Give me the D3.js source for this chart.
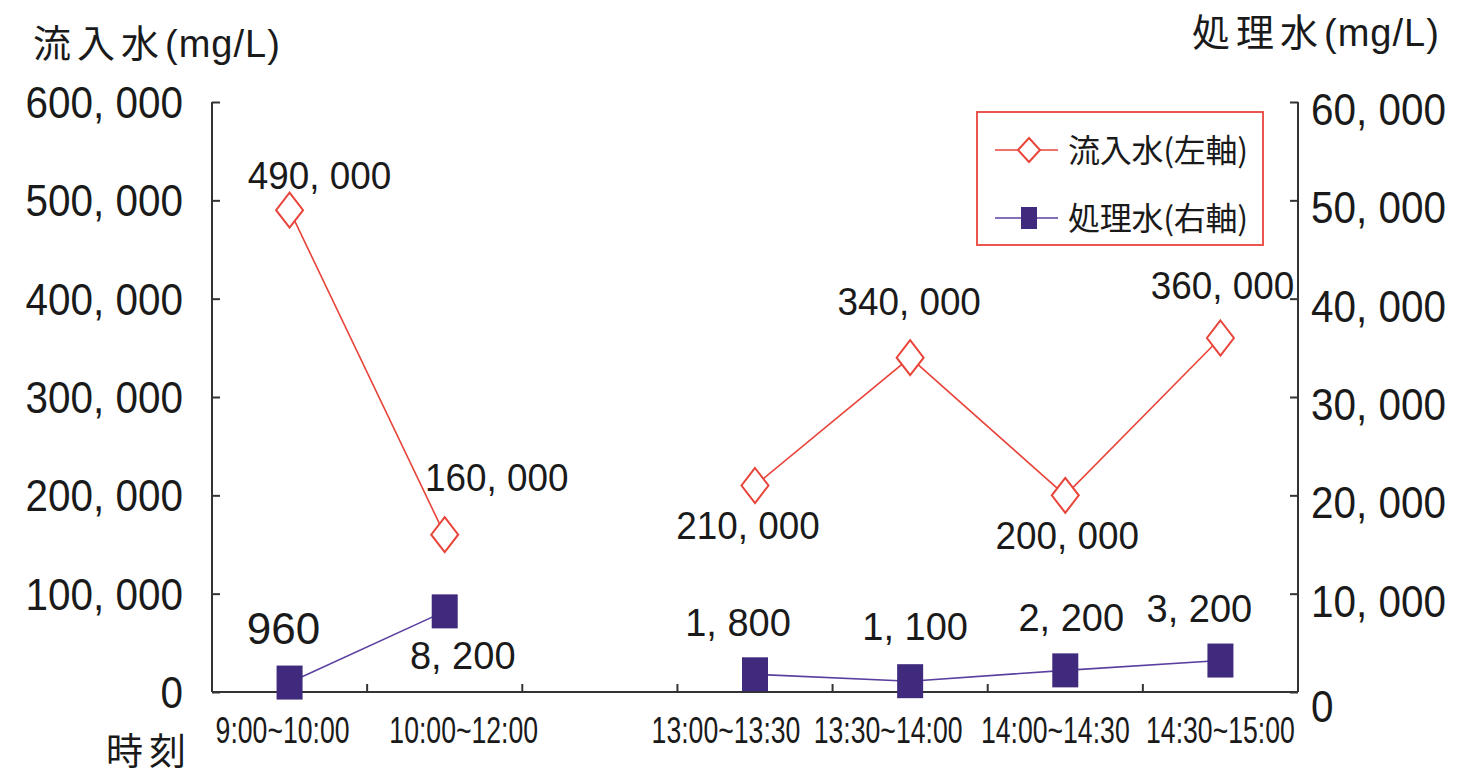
<!DOCTYPE html>
<html>
<head>
<meta charset="utf-8">
<script src="https://cdn.jsdelivr.net/npm/d3@7"></script>
<style>
  body { margin: 0; background: #fff; }
  text { font-family: "Liberation Sans", Arial, sans-serif; fill: #1a1a1a; }
  .jp { font-family: "Noto Sans CJK JP", sans-serif; }
</style>
</head>
<body>
<svg id="chart" width="1470" height="775"></svg>
<script>
// data
var periods = ["9:00~10:00", "10:00~12:00", "", "13:00~13:30", "13:30~14:00", "14:00~14:30", "14:30~15:00"];
var inflow = [490000, 160000, null, 210000, 340000, 200000, 360000];     // 流入水 (left axis)
var treated = [960, 8200, null, 1800, 1100, 2200, 3200];                // 処理水 (right axis)
var leftTicks = [0, 100000, 200000, 300000, 400000, 500000, 600000];
var rightTicks = [0, 10000, 20000, 30000, 40000, 50000, 60000];

var svg = d3.select("#chart");

var x0 = 212, x1 = 1298, yBottom = 692, yTop = 102;

var x = d3.scaleBand().domain(d3.range(periods.length)).range([x0, x1]);
var yL = d3.scaleLinear().domain([0, 600000]).range([yBottom, yTop]);
var yR = d3.scaleLinear().domain([0, 60000]).range([yBottom, yTop]);
var cx = function(i) { return x(i) + x.bandwidth() / 2; };

var fmt = function(v) { return d3.format(",")(v).replace(/,/g, ", "); };

// narrow font in the source -> scale text horizontally around its anchor
function narrow(sel, k, fx, fy) {
  sel.attr("x", 0).attr("y", 0)
    .attr("transform", function(d, i) { return "translate(" + fx(d, i) + "," + fy(d, i) + ") scale(" + k + ",1)"; });
}

var axisColor = "#333";

// left axis
var gL = svg.append("g").attr("transform", "translate(" + x0 + ",0)")
  .call(d3.axisRight(yL).tickValues(leftTicks).tickSize(8).tickFormat(""));
// right axis
var gR = svg.append("g").attr("transform", "translate(" + x1 + ",0)")
  .call(d3.axisLeft(yR).tickValues(rightTicks).tickSize(8).tickFormat(""));
[gL, gR].forEach(function(g) { g.select(".domain").attr("d", "M0," + yTop + "V" + yBottom); });
// bottom axis, ticks on band edges
var gB = svg.append("g").attr("transform", "translate(0," + yBottom + ")");
gB.append("line").attr("x1", x0).attr("x2", x1).attr("y1", 0).attr("y2", 0);
gB.selectAll(".tk").data(d3.range(1, periods.length)).enter().append("line")
  .attr("x1", function(i) { return x(i); }).attr("x2", function(i) { return x(i); })
  .attr("y1", 0).attr("y2", -8);
svg.selectAll("line, .domain").attr("stroke", axisColor).attr("stroke-width", 2);

// tick labels left
var lt = svg.append("g").selectAll("text").data(leftTicks).enter().append("text")
  .attr("dy", "0.36em").attr("text-anchor", "end").style("font-size", "44px")
  .text(function(d) { return fmt(d); });
narrow(lt, 0.92, function() { return 183; }, function(d) { return yL(d); });

// tick labels right
var rt = svg.append("g").selectAll("text").data(rightTicks).enter().append("text")
  .attr("dy", "0.36em").style("font-size", "44px")
  .text(function(d) { return fmt(d); });
narrow(rt, 0.92, function() { return 1311; }, function(d) { return yR(d) + (d === 0 ? 14 : 7); });

// category labels
var labelDx = [-7, 19, 0, -29, -22, -10, 0];
var xl = svg.append("g").selectAll("text").data(periods).enter().append("text")
  .attr("text-anchor", "middle").style("font-size", "37px")
  .text(function(d) { return d; });
narrow(xl, 0.72, function(d, i) { return cx(i) + labelDx[i]; }, function() { return 743; });

// axis titles
function title(tx, ty, jp) {
  var t = svg.append("text").attr("x", tx).attr("y", ty).style("font-size", "38px");
  t.append("tspan").attr("class", "jp").style("letter-spacing", "6px").text(jp);
  t.append("tspan").style("letter-spacing", "1px").text("(mg/L)");
}
title(33, 57, "流入水");
title(1192, 46, "処理水");
svg.append("text").attr("class", "jp").attr("x", 106).attr("y", 765)
  .style("letter-spacing", "6px").style("font-size", "37px").text("時刻");

var red = "#e8443a", purpleLine = "#5b3fa0", purple = "#3f2a7e";

// lines
var lineL = d3.line().defined(function(d) { return d != null; })
  .x(function(d, i) { return cx(i); }).y(function(d) { return yL(d); });
var lineR = d3.line().defined(function(d) { return d != null; })
  .x(function(d, i) { return cx(i); }).y(function(d) { return yR(d); });

svg.append("path").datum(inflow).attr("d", lineL).attr("fill", "none").attr("stroke", red).attr("stroke-width", 1.6);
svg.append("path").datum(treated).attr("d", lineR).attr("fill", "none").attr("stroke", purpleLine).attr("stroke-width", 1.6);

function diamond(w, h) { return "M0," + (-h) + "L" + w + ",0L0," + h + "L" + (-w) + ",0Z"; }

var inPts = inflow.map(function(v, i) { return {v: v, i: i}; }).filter(function(d) { return d.v != null; });
var trPts = treated.map(function(v, i) { return {v: v, i: i}; }).filter(function(d) { return d.v != null; });

svg.append("g").selectAll("path").data(inPts).enter().append("path")
  .attr("transform", function(d) { return "translate(" + cx(d.i) + "," + yL(d.v) + ")"; })
  .attr("d", diamond(13.5, 17.5)).attr("fill", "#fff").attr("stroke", red).attr("stroke-width", 2);

svg.append("g").selectAll("rect").data(trPts).enter().append("rect")
  .attr("x", function(d) { return cx(d.i) - 13; }).attr("y", function(d) { return yR(d.v) - 17; })
  .attr("width", 26).attr("height", 34).attr("fill", purple);

// value labels (offsets from the point, label centre)
var inOff = [[30, -35], [52, -57], null, [-7, 40], [-1, -56], [2, 40], [2, -53]];
var trOff = [[-6, -54], [18, 44], null, [-17, -52], [5, -55], [6, -53], [-21, -52]];

var vl = svg.append("g").selectAll("text").data(inPts).enter().append("text")
  .attr("dy", "0.36em").attr("text-anchor", "middle").style("font-size", "38px")
  .text(function(d) { return fmt(d.v); });
narrow(vl, 0.97, function(d) { return cx(d.i) + inOff[d.i][0]; }, function(d) { return yL(d.v) + inOff[d.i][1]; });

svg.append("g").selectAll("text").data(trPts).enter().append("text")
  .attr("x", function(d) { return cx(d.i) + trOff[d.i][0]; })
  .attr("y", function(d) { return yR(d.v) + trOff[d.i][1]; })
  .attr("dy", "0.36em").attr("text-anchor", "middle")
  .style("font-size", function(d) { return d.i === 0 ? "44px" : "38px"; })
  .text(function(d) { return fmt(d.v); });

// legend
var lg = svg.append("g");
lg.append("rect").attr("x", 977).attr("y", 112).attr("width", 286).attr("height", 133)
  .attr("fill", "#fff").attr("stroke", red).attr("stroke-width", 1.8);
var legendItems = [
  {label: "流入水(左軸)", color: red, mark: "diamond", y: 150},
  {label: "処理水(右軸)", color: purpleLine, mark: "square", y: 218}
];
legendItems.forEach(function(it) {
  lg.append("line").attr("x1", 995).attr("x2", 1058).attr("y1", it.y).attr("y2", it.y)
    .attr("stroke", it.color).attr("stroke-width", 1.6);
  if (it.mark === "diamond") {
    lg.append("path").attr("transform", "translate(1029," + it.y + ")").attr("d", diamond(11, 12))
      .attr("fill", "#fff").attr("stroke", red).attr("stroke-width", 2);
  } else {
    lg.append("rect").attr("x", 1021).attr("y", it.y - 11).attr("width", 16).attr("height", 22).attr("fill", purple);
  }
  lg.append("text").attr("class", "jp").attr("x", 1068).attr("y", it.y).attr("dy", "0.36em")
    .attr("textLength", 180).attr("lengthAdjust", "spacing")
    .style("font-size", "32px").text(it.label);
});
</script>
</body>
</html>
